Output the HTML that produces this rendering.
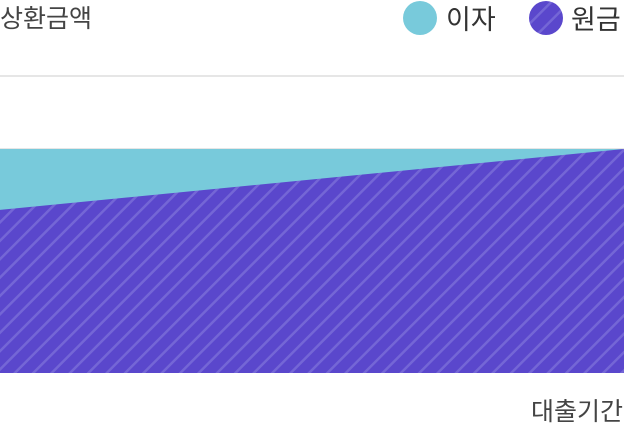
<!DOCTYPE html>
<html><head><meta charset="utf-8"><style>
html,body{margin:0;padding:0;background:#fff;}
svg{display:block;font-family:"Liberation Sans","Noto Sans CJK KR",sans-serif;}
</style></head><body>
<svg width="624" height="428" viewBox="0 0 624 428">
<defs>
<pattern id="hatch" patternUnits="userSpaceOnUse" width="13" height="13" patternTransform="rotate(45)">
<rect width="13" height="13" fill="#5a47cc"/>
<rect x="0" y="0" width="2.5" height="13" fill="#7466d6"/>
</pattern>
</defs>
<text x="0" y="27" font-size="25" fill="#444">상환금액</text>
<g>
<circle cx="420" cy="18" r="17" fill="#78cadb"/>
<text x="446" y="29" font-size="27" fill="#333">이자</text>
<circle cx="546" cy="18" r="17" fill="url(#hatch)"/>
<text x="571" y="29" font-size="27" fill="#333">원금</text>
</g>
<g id="grid"></g>
<g id="areas"></g>
<text x="623" y="420" font-size="25" fill="#444" text-anchor="end">대출기간</text>
</svg>
<script>
const periods = [0, 1];
const totalPayment = [1, 1];
const principal = [0.728, 1];
const gridValues = [1, 1.326];

const x = v => 0 + (v - 0) / (1 - 0) * 624;
const y = v => 373 - v * 224;
const NS = "http://www.w3.org/2000/svg";
const grid = document.getElementById('grid');
gridValues.forEach(g => {
  const l = document.createElementNS(NS, 'line');
  l.setAttribute('x1', 0); l.setAttribute('x2', 624);
  l.setAttribute('y1', y(g)); l.setAttribute('y2', y(g));
  l.setAttribute('stroke', '#e6e6e6'); l.setAttribute('stroke-width', 2);
  
  
  grid.appendChild(l);
});
const areas = document.getElementById('areas');
function area(vals, fill, name) {
  let d = 'M' + x(periods[0]) + ',' + y(0);
  periods.forEach((p, i) => { d += ' L' + x(p) + ',' + y(vals[i]); });
  d += ' L' + x(periods[periods.length - 1]) + ',' + y(0) + ' Z';
  const p = document.createElementNS(NS, 'path');
  p.setAttribute('d', d); p.setAttribute('fill', fill);
  
  
  areas.appendChild(p);
}
area(totalPayment, '#78cadb', 'interest-area');
area(principal, 'url(#hatch)', 'principal-area');
</script>
</body></html>
